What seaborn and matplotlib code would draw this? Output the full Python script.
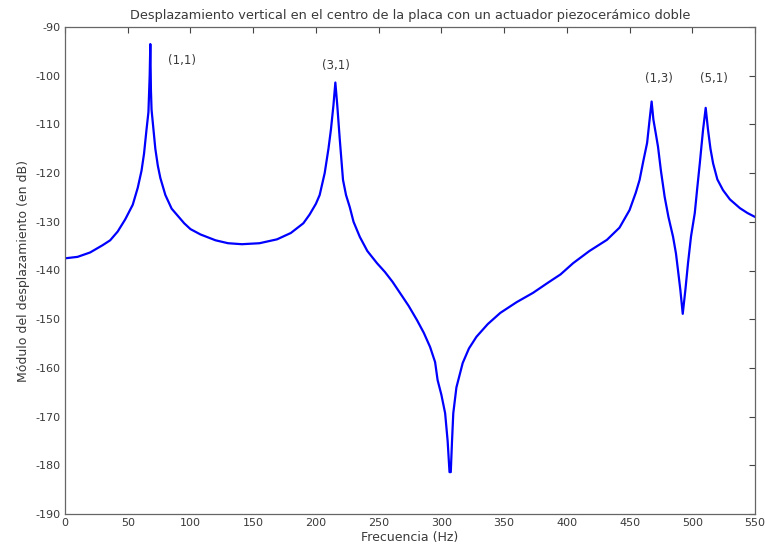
import matplotlib
matplotlib.use("Agg")
import matplotlib.pyplot as plt
import seaborn as sns
import pandas as pd

freq_hz = [0, 10, 20, 30, 36, 42, 48, 54, 58, 61, 63, 65, 66.5, 67.5, 68, 68.5, 69, 70.5, 72, 74,
           76, 80, 85, 89, 95, 100, 108, 120, 130, 141, 155, 169, 180, 190, 195, 200, 203, 207, 210, 212,
           214, 215.5, 217, 219, 221.6, 224, 227, 230, 235, 241, 248.7, 255, 261, 267, 274, 280.6, 286, 291,
           295, 297, 300, 303, 305, 306.5, 307.5, 308.5, 309.5, 312, 317, 322, 328, 337, 347, 360, 373, 385,
           395, 405, 418, 432, 442, 450, 455, 458, 461, 464, 466, 467.6, 469, 471, 472.7, 475, 478, 481,
           484.7, 487, 488.6, 490.5, 492.4, 494.5, 496.6, 499, 502, 504, 506, 507.5, 508.6, 510.7, 512.5,
           514.5, 516.6, 520, 524.5, 530, 538, 544, 550]
disp_db = [-137.5, -137.2, -136.3, -134.8, -133.8, -132.0, -129.5, -126.5, -123.0, -119.5, -116.0, -111.0,
           -107.5, -100.0, -93.5, -103.0, -107.0, -111.0, -115.0, -118.5,
           -121.0, -124.5, -127.3, -128.5, -130.3, -131.5, -132.6, -133.8, -134.4, -134.6, -134.4, -133.6,
           -132.3, -130.3, -128.5, -126.3, -124.5, -120.0, -115.0, -111.0,
           -106.0, -101.4, -106.0, -113.0, -121.4, -124.5, -127.0, -130.0, -133.1, -136.0, -138.5, -140.3,
           -142.3, -144.6, -147.3, -150.2, -152.8, -155.7,
           -158.8, -162.5, -165.5, -169.3, -175.0, -181.4, -181.4, -175.0, -169.3, -164.0, -159.0, -156.0,
           -153.6, -151.0, -148.7, -146.5, -144.6, -142.5,
           -140.8, -138.5, -136.0, -133.7, -131.2, -127.6, -124.0, -121.4, -117.5, -113.8, -109.0, -105.3,
           -109.0, -112.0, -114.6, -119.5, -124.9, -129.0,
           -133.1, -136.5, -139.9, -144.0, -148.9, -144.0, -138.5, -133.0, -128.2, -123.0, -118.0, -114.0,
           -111.1, -106.6, -111.0,
           -115.0, -118.0, -121.3, -123.5, -125.4, -127.2, -128.2, -129.0]

mode_labels = ["(1,1)", "(3,1)", "(1,3)", "(5,1)"]
mode_x = [93, 216, 473.5, 517]
mode_y = [-96.8, -98.0, -100.6, -100.6]

x_ticks = list(range(0, 551, 50))
y_ticks = list(range(-190, -89, 10))

sns.set_theme(style="white")
plt.rcParams['font.family'] = ['DejaVu Sans']
plt.rcParams['axes.unicode_minus'] = False

df = pd.DataFrame({"f": freq_hz, "db": disp_db})

fig = plt.figure(figsize=(7.65, 5.59), dpi=100)
ax = fig.add_axes([65/765, 1-514/559, 690/765, 487/559])
sns.lineplot(data=df, x="f", y="db", ax=ax, color=(0, 0, 1), linewidth=1.6, sort=False)

txt = "#3a3a3a"
for lab, xx, yy in zip(mode_labels, mode_x, mode_y):
    ax.text(xx, yy, lab, ha="center", va="center", fontsize=8.5, color=txt)

ax.set_xlim(0, 550)
ax.set_ylim(-190, -90)
ax.set_xticks(x_ticks)
ax.set_yticks(y_ticks)
ax.tick_params(direction="in", length=4, width=0.8, top=True, right=True,
               labelsize=8, colors="#444444", labelcolor=txt, pad=3)
for s in ax.spines.values():
    s.set_color("#666666")
    s.set_linewidth(0.9)
ax.set_xlabel("Frecuencia (Hz)", fontsize=9, color=txt, labelpad=2)
ax.set_ylabel("Módulo del desplazamiento (en dB)", fontsize=9, color=txt, labelpad=4)
ax.set_title("Desplazamiento vertical en el centro de la placa con un actuador piezocerámico doble",
             fontsize=9.3, color=txt, pad=6)
fig.savefig("out.png", dpi=100)
